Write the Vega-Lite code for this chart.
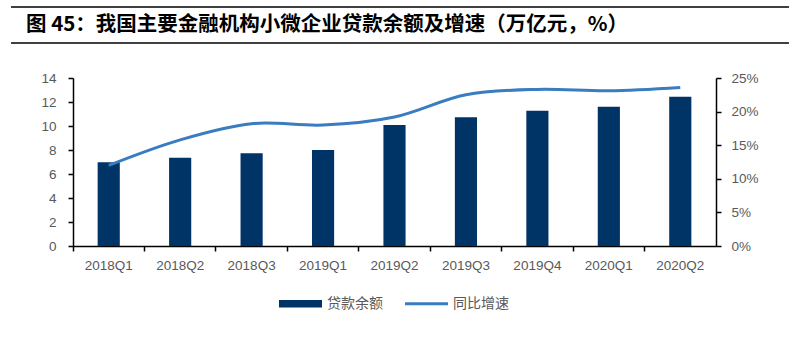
{
  "$schema": "https://vega.github.io/schema/vega-lite/v6.json",
  "background": "white",
  "padding": {"left": 10, "top": 6, "right": 17, "bottom": 10},
  "bounds": "flush",
  "spacing": 35,
  "config": {
    "view": {"stroke": null},
    "axis": {
      "grid": false,
      "labelFont": "Liberation Sans",
      "labelFontSize": 13.5,
      "labelColor": "#595959",
      "domainColor": "#000000",
      "tickColor": "#000000",
      "domainWidth": 1.5,
      "tickWidth": 1.5,
      "tickSize": 5
    }
  },
  "vconcat": [
    {
      "width": 643,
      "height": 36,
      "data": {"values": [{"title": "图 45：我国主要金融机构小微企业贷款余额及增速（万亿元，%）"}]},
      "layer": [
        {
          "mark": {"type": "rule", "stroke": "#000000", "strokeWidth": 1.5},
          "encoding": {
            "x": {"datum": -0.0964, "type": "quantitative", "scale": {"domain": [0, 1], "nice": false, "zero": false}, "axis": null},
            "x2": {"datum": 1.1135},
            "y": {"datum": 1, "type": "quantitative", "scale": {"domain": [0, 1], "nice": false}, "axis": null}
          }
        },
        {
          "mark": {"type": "rule", "stroke": "#000000", "strokeWidth": 1.5},
          "encoding": {
            "x": {"datum": -0.0964, "type": "quantitative"},
            "x2": {"datum": 1.1135},
            "y": {"datum": 0, "type": "quantitative"}
          }
        },
        {
          "mark": {"type": "text", "align": "left", "baseline": "middle", "font": "Noto Sans CJK SC", "fontWeight": "bold", "fontSize": 20.5, "color": "#000000"},
          "encoding": {
            "x": {"datum": -0.0731, "type": "quantitative"},
            "y": {"datum": 0.5, "type": "quantitative"},
            "text": {"field": "title"}
          }
        }
      ]
    },
    {
      "width": 643,
      "height": 168,
      "data": {
        "values": [
          {"quarter": "2018Q1", "balance": 6.97, "growth": 12.0},
          {"quarter": "2018Q2", "balance": 7.36, "growth": 15.8},
          {"quarter": "2018Q3", "balance": 7.72, "growth": 18.2},
          {"quarter": "2019Q1", "balance": 8.0, "growth": 18.0},
          {"quarter": "2019Q2", "balance": 10.08, "growth": 19.2},
          {"quarter": "2019Q3", "balance": 10.72, "growth": 22.5},
          {"quarter": "2019Q4", "balance": 11.28, "growth": 23.3},
          {"quarter": "2020Q1", "balance": 11.6, "growth": 23.1},
          {"quarter": "2020Q2", "balance": 12.44, "growth": 23.6}
        ]
      },
      "encoding": {
        "x": {
          "field": "quarter",
          "type": "nominal",
          "sort": null,
          "scale": {"paddingInner": 0, "paddingOuter": 0},
          "axis": {"title": null, "labelAngle": 0, "bandPosition": 0, "labelPadding": 7}
        }
      },
      "layer": [
        {
          "mark": {"type": "bar", "width": {"band": 0.31}},
          "encoding": {
            "y": {
              "field": "balance",
              "type": "quantitative",
              "scale": {"domain": [0, 14], "nice": false},
              "axis": {"orient": "left", "title": null, "values": [0, 2, 4, 6, 8, 10, 12, 14], "labelPadding": 12}
            },
            "color": {
              "datum": "贷款余额",
              "type": "nominal",
              "scale": {"domain": ["贷款余额", "同比增速"], "range": ["#003366", "#3a7cc0"]},
              "legend": {
                "orient": "none",
                "legendX": 206,
                "legendY": 275,
                "direction": "horizontal",
                "title": null,
                "symbolType": "square",
                "symbolSize": 1849,
                "labelFont": "Noto Sans CJK SC",
                "labelFontSize": 14,
                "labelColor": "#595959",
                "labelOffset": 5,
                "columnPadding": 22,
                "encode": {
                  "symbols": {
                    "update": {
                      "shape": {"signal": "datum.value === '贷款余额' ? 'M-1,-0.18H1V0.18H-1Z' : 'M-1,-0.07H1V0.07H-1Z'"},
                      "fill": {"signal": "datum.value === '贷款余额' ? '#003366' : '#3a7cc0'"},
                      "stroke": {"value": "transparent"},
                      "strokeWidth": {"value": 0},
                      "size": {"value": 1849}
                    }
                  }
                }
              }
            }
          }
        },
        {
          "mark": {"type": "line", "interpolate": "catmull-rom", "strokeWidth": 3},
          "encoding": {
            "y": {
              "field": "growth",
              "type": "quantitative",
              "scale": {"domain": [0, 25], "nice": false},
              "axis": {"orient": "right", "title": null, "values": [0, 5, 10, 15, 20, 25], "labelExpr": "datum.value + '%'", "labelPadding": 10}
            },
            "color": {"datum": "同比增速", "type": "nominal"}
          }
        }
      ],
      "resolve": {"scale": {"y": "independent"}}
    }
  ]
}
